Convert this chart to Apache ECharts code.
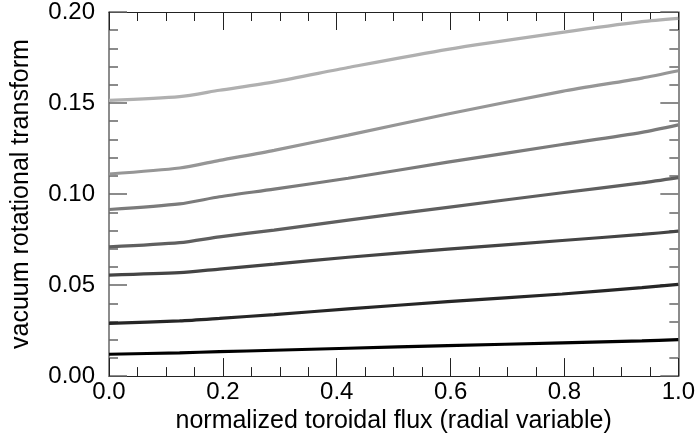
<!DOCTYPE html>
<html>
<head>
<meta charset="utf-8">
<script src="https://cdn.jsdelivr.net/npm/echarts@6/dist/echarts.min.js"></script>
<style>
html,body{margin:0;padding:0;background:#fff;}
#chart{width:698px;height:439px;}
</style>
</head>
<body>
<div id="chart"></div>
<script>
// normalized toroidal flux sample points
var fluxValues = [0, 0.124, 0.194, 0.29, 0.42, 0.595, 0.796, 0.936, 1.0];
// vacuum rotational transform, one array per curve (top to bottom)
var curve1 = [0.1515, 0.1535, 0.157, 0.1616, 0.1695, 0.1795, 0.1888, 0.1947, 0.1965];
var curve2 = [0.111, 0.1143, 0.1185, 0.124, 0.1324, 0.144, 0.1564, 0.1637, 0.1677];
var curve3 = [0.0915, 0.0946, 0.0985, 0.1027, 0.1087, 0.1175, 0.1272, 0.1339, 0.138];
var curve4 = [0.071, 0.0733, 0.0765, 0.0802, 0.0857, 0.0927, 0.1007, 0.1061, 0.109];
var curve5 = [0.0555, 0.0568, 0.0588, 0.0615, 0.0653, 0.0697, 0.0745, 0.0778, 0.0796];
var curve6 = [0.029, 0.0303, 0.0317, 0.0338, 0.0369, 0.0409, 0.0451, 0.0486, 0.0504];
var curve7 = [0.012, 0.0128, 0.0134, 0.0142, 0.0153, 0.0167, 0.0183, 0.0193, 0.020];
var curves = [curve1, curve2, curve3, curve4, curve5, curve6, curve7];
var curveColors = ['#b0b0b0', '#969696', '#7b7b7b', '#5f5f5f', '#444444', '#262626', '#000000'];
var xTicks = {min: 0, max: 1, interval: 0.2};
var yTicks = {min: 0, max: 0.2, interval: 0.05};
var xName = 'normalized toroidal flux (radial variable)';
var yName = 'vacuum rotational transform';

var font = '"Liberation Sans", Arial, Helvetica, sans-serif';
var chart = echarts.init(document.getElementById('chart'), null, {renderer: 'canvas'});

function pairs(ys) {
  return fluxValues.map(function (x, i) { return [x, ys[i]]; });
}

var series = curves.map(function (ys, i) {
  return {
    type: 'line',
    data: pairs(ys),
    showSymbol: false,
    smooth: 0.25,
    lineStyle: {color: curveColors[i], width: 3.2},
    z: 10 - i
  };
});

var xLine = {color: '#222', width: 1};
var yLine = {color: '#666', width: 1.5};

chart.setOption({
  animation: false,
  backgroundColor: '#fff',
  grid: {left: 109, right: 16, top: 12, bottom: 62, containLabel: false},
  xAxis: [{
    type: 'value', min: xTicks.min, max: xTicks.max, interval: xTicks.interval,
    name: xName, nameLocation: 'middle', nameGap: 30,
    nameTextStyle: {fontFamily: font, fontSize: 25, color: '#000'},
    axisLine: {show: true, onZero: false, lineStyle: xLine},
    axisTick: {show: true, inside: true, length: 18, lineStyle: xLine},
    minorTick: {show: true, splitNumber: 4, length: 9, lineStyle: xLine},
    splitLine: {show: false},
    axisLabel: {fontFamily: font, fontSize: 24, color: '#000', margin: 4,
      formatter: function (v) { return v.toFixed(1); }}
  }, {
    type: 'value', position: 'top', min: xTicks.min, max: xTicks.max, interval: xTicks.interval,
    axisLine: {show: true, onZero: false, lineStyle: xLine},
    axisTick: {show: true, inside: true, length: 18, lineStyle: xLine},
    minorTick: {show: true, splitNumber: 4, length: 9, lineStyle: xLine},
    splitLine: {show: false},
    axisLabel: {show: false}
  }],
  yAxis: [{
    type: 'value', min: yTicks.min, max: yTicks.max, interval: yTicks.interval,
    name: yName, nameLocation: 'middle', nameGap: 75,
    nameTextStyle: {fontFamily: font, fontSize: 25, color: '#000'},
    axisLine: {show: true, onZero: false, lineStyle: yLine},
    axisTick: {show: true, inside: true, length: 18, lineStyle: yLine},
    minorTick: {show: true, splitNumber: 5, length: 9, lineStyle: yLine},
    splitLine: {show: false},
    axisLabel: {fontFamily: font, fontSize: 24, color: '#000', margin: 14,
      formatter: function (v) { return v.toFixed(2); }}
  }, {
    type: 'value', position: 'right', min: yTicks.min, max: yTicks.max, interval: yTicks.interval,
    axisLine: {show: true, onZero: false, lineStyle: yLine},
    axisTick: {show: true, inside: true, length: 18, lineStyle: yLine},
    minorTick: {show: true, splitNumber: 5, length: 9, lineStyle: yLine},
    splitLine: {show: false},
    axisLabel: {show: false}
  }],
  series: series
});
</script>
</body>
</html>
